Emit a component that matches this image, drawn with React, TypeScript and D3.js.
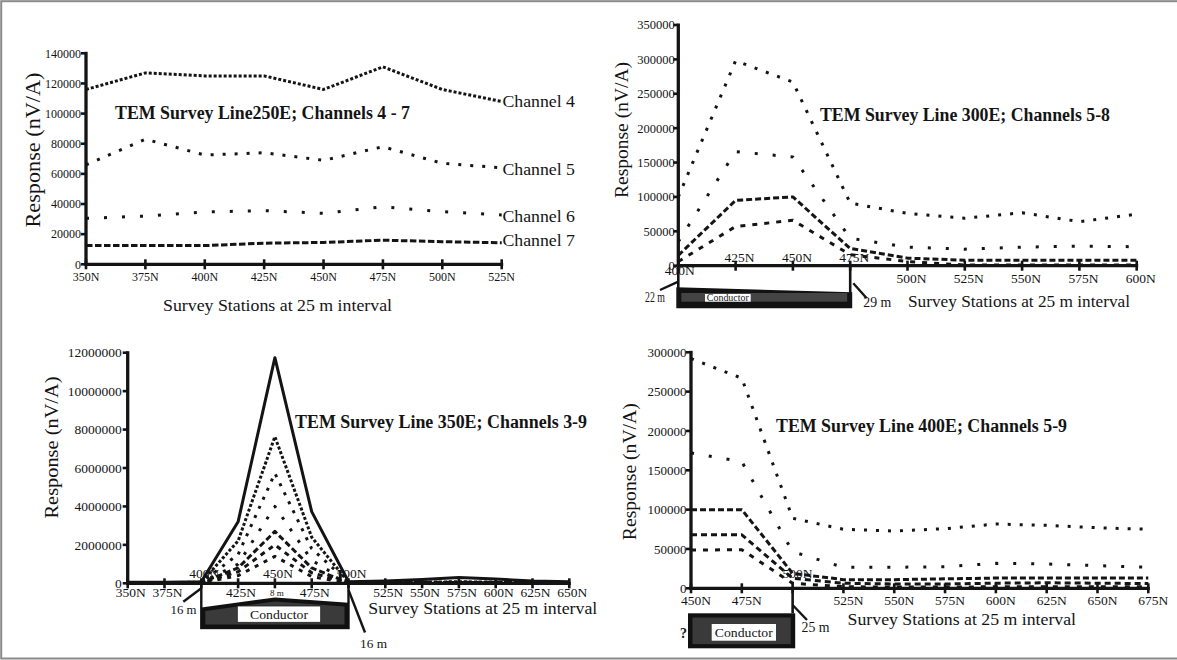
import React from "react";
import * as d3 from "d3";

const FONT = "Liberation Serif, Times New Roman, Times, serif";
const INK = "#141414";

// ---------------- Panel 1: TEM Survey Line 250E, channels 4-7 ----------------
const p1Stations = ["350N", "375N", "400N", "425N", "450N", "475N", "500N", "525N"];
const p1Ch4 = [116000, 127000, 125000, 125000, 116000, 131000, 116000, 108000];
const p1Ch5 = [66000, 83000, 72500, 74000, 69000, 78000, 67000, 64000];
const p1Ch6 = [30500, 32000, 34700, 35600, 33800, 38200, 34900, 32700];
const p1Ch7 = [12400, 12400, 12400, 14000, 14500, 16000, 15000, 14300];
const p1YTicks = [0, 20000, 40000, 60000, 80000, 100000, 120000, 140000];
const p1Names = ["Channel 4", "Channel 5", "Channel 6", "Channel 7"];

// ---------------- Panel 2: TEM Survey Line 300E, channels 5-8 ----------------
const p2Stations = ["400N", "425N", "450N", "475N", "500N", "525N", "550N", "575N", "600N"];
const p2Ch5 = [100000, 298000, 267000, 91000, 76000, 69000, 77000, 64000, 75000];
const p2Ch6 = [35000, 166000, 158000, 40000, 27000, 24000, 27000, 28500, 27600];
const p2Ch7 = [15000, 95000, 100000, 25000, 11000, 8000, 8000, 8000, 8000];
const p2Ch8 = [6000, 57000, 66000, 16000, 6000, 1000, 1000, 1000, 1000];
const p2YTicks = [0, 50000, 100000, 150000, 200000, 250000, 300000, 350000];

// ---------------- Panel 3: TEM Survey Line 350E, channels 3-9 ----------------
const p3Stations = ["350N", "375N", "400N", "425N", "450N", "475N", "500N", "525N", "550N", "575N", "600N", "625N", "650N"];
const p3Ch3 = [50000, 60000, 80000, 3200000, 11740000, 3730000, 80000, 120000, 200000, 300000, 220000, 120000, 80000];
const p3Ch4 = [20000, 30000, 60000, 2200000, 7630000, 2400000, 60000, 50000, 60000, 80000, 60000, 50000, 40000];
const p3Ch5 = [15000, 20000, 50000, 1500000, 5720000, 1800000, 50000, 40000, 50000, 60000, 50000, 40000, 30000];
const p3Ch6 = [10000, 15000, 40000, 1000000, 4000000, 1200000, 40000, 30000, 40000, 50000, 40000, 30000, 20000];
const p3Ch7 = [10000, 10000, 30000, 800000, 2700000, 800000, 30000, 20000, 30000, 40000, 30000, 20000, 20000];
const p3Ch8 = [5000, 10000, 20000, 600000, 2000000, 550000, 20000, 15000, 20000, 30000, 20000, 15000, 10000];
const p3Ch9 = [5000, 5000, 10000, 400000, 1400000, 350000, 10000, 10000, 15000, 20000, 15000, 10000, 10000];
const p3YTicks = [0, 2000000, 4000000, 6000000, 8000000, 10000000, 12000000];

// ---------------- Panel 4: TEM Survey Line 400E, channels 5-9 ----------------
const p4Stations = ["450N", "475N", "500N", "525N", "550N", "575N", "600N", "625N", "650N", "675N"];
const p4Ch5 = [292000, 267000, 89000, 75000, 72800, 75800, 81700, 80000, 77000, 75000];
const p4Ch6 = [172000, 161000, 46500, 26700, 26700, 27500, 31700, 30900, 28800, 26700];
const p4Ch7 = [100000, 100000, 19000, 11000, 11000, 12000, 13000, 13000, 13000, 13000];
const p4Ch8 = [68000, 68000, 12700, 6400, 5500, 5500, 6500, 7000, 6500, 6000];
const p4Ch9 = [48700, 49000, 6400, 2000, 1500, 1500, 2000, 2000, 2000, 2000];
const p4YTicks = [0, 50000, 100000, 150000, 200000, 250000, 300000];

// ---------------- styles (kept apart from the data) ----------------
const p1Dash = ["3 2", "3 9", "3 15", "6.5 2.5"];
const p2Dash = ["3 9", "3 15", "6 3", "5 7"];
const p3Dash = ["", "3 2", "3 7", "3 11", "6 3", "5 5", "4 6"];
const p4Dash = ["3 9", "3 15", "6 3", "6 4", "5 7"];

type Cfg = {
  stations: string[];
  xr: [number, number];
  yr: [number, number];
  yMax: number;
  yTicks: number[];
  yLabelSize: number;
  yLabelGap: number;
  xLabelSize: number;
  belowBase: number;
  aboveBase: number;
  above: string[];
  dx: number;
  override?: Record<string, [number, number]>;
};

function scales(cfg: Cfg) {
  const x = d3.scalePoint<string>().domain(cfg.stations).range(cfg.xr);
  const y = d3.scaleLinear().domain([0, cfg.yMax]).range(cfg.yr);
  return { x, y };
}

function Axes({ cfg }: { cfg: Cfg }) {
  const { x, y } = scales(cfg);
  const y0 = y(0);
  const x0 = cfg.xr[0];
  return (
    <g>
      {cfg.yTicks.map((v) => (
        <g key={"y" + v}>
          <line x1={x0 - 5} x2={x0} y1={y(v)} y2={y(v)} stroke={INK} strokeWidth={2.6} />
          <text x={x0 - cfg.yLabelGap} y={y(v)} dy="0.35em" textAnchor="end" fontSize={cfg.yLabelSize} fontFamily={FONT} fill={INK}>
            {v}
          </text>
        </g>
      ))}
      {cfg.stations.map((s) => {
        const ov = cfg.override && cfg.override[s];
        const isAbove = cfg.above.includes(s);
        const lx = (x(s) as number) + (ov ? ov[0] : cfg.dx);
        const ly = ov ? ov[1] : isAbove ? cfg.aboveBase : cfg.belowBase;
        return (
          <g key={"x" + s}>
            <line x1={x(s)} x2={x(s)} y1={y0 - 5} y2={y0 + 5} stroke={INK} strokeWidth={2.6} />
            <text x={lx} y={ly} textAnchor="middle" fontSize={cfg.xLabelSize} fontFamily={FONT} fill={INK}>
              {s}
            </text>
          </g>
        );
      })}
      <line x1={x0} x2={x0} y1={y0 + 1.5} y2={y(cfg.yMax) - 1.5} stroke={INK} strokeWidth={3.3} />
      <line x1={x0 - 1.5} x2={cfg.xr[1] + 1.5} y1={y0} y2={y0} stroke={INK} strokeWidth={3.3} />
    </g>
  );
}

function Lines({ cfg, series, dashes }: { cfg: Cfg; series: number[][]; dashes: string[] }) {
  const { x, y } = scales(cfg);
  const line = d3
    .line<number>()
    .x((_, i) => x(cfg.stations[i]) as number)
    .y((d) => y(d));
  return (
    <g>
      {series.map((vals, i) => (
        <path
          key={i}
          d={line(vals) || ""}
          fill="none"
          stroke={INK}
          strokeWidth={3}
          strokeDasharray={dashes[i] || undefined}
          strokeLinejoin="round"
        />
      ))}
    </g>
  );
}

function Txt(props: {
  x: number;
  y: number;
  size: number;
  len?: number;
  anchor?: string;
  bold?: boolean;
  rot?: boolean;
  fill?: string;
  children: React.ReactNode;
}) {
  const { x, y, size, len, anchor = "start", bold, rot, fill = INK, children } = props;
  return (
    <text
      x={rot ? 0 : x}
      y={rot ? 0 : y}
      transform={rot ? `translate(${x},${y}) rotate(-90)` : undefined}
      fontSize={size}
      fontFamily={FONT}
      fontWeight={bold ? "bold" : "normal"}
      textAnchor={anchor}
      textLength={len}
      lengthAdjust={len ? "spacingAndGlyphs" : undefined}
      fill={fill}
    >
      {children}
    </text>
  );
}

const cfg1: Cfg = {
  stations: p1Stations,
  xr: [86, 501.7],
  yr: [264.3, 53.3],
  yMax: 140000,
  yTicks: p1YTicks,
  yLabelSize: 12,
  yLabelGap: 5,
  xLabelSize: 12,
  belowBase: 281,
  aboveBase: 0,
  above: [],
  dx: 0,
};
const cfg2: Cfg = {
  stations: p2Stations,
  xr: [678.3, 1136.7],
  yr: [265.7, 25],
  yMax: 350000,
  yTicks: p2YTicks,
  yLabelSize: 12.5,
  yLabelGap: 3.5,
  xLabelSize: 13.5,
  belowBase: 283,
  aboveBase: 261.7,
  above: ["425N", "450N", "475N"],
  dx: 4,
  override: { "400N": [1.5, 274.5] },
};
const cfg3: Cfg = {
  stations: p3Stations,
  xr: [127.7, 569.3],
  yr: [583.3, 352.7],
  yMax: 12000000,
  yTicks: p3YTicks,
  yLabelSize: 13.5,
  yLabelGap: 6,
  xLabelSize: 13.5,
  belowBase: 597,
  aboveBase: 577.5,
  above: ["400N", "450N", "500N"],
  dx: 3,
};
const cfg4: Cfg = {
  stations: p4Stations,
  xr: [691, 1148.3],
  yr: [588.3, 352.3],
  yMax: 300000,
  yTicks: p4YTicks,
  yLabelSize: 13,
  yLabelGap: 4.5,
  xLabelSize: 13.5,
  belowBase: 605,
  aboveBase: 578.3,
  above: ["500N"],
  dx: 5,
};

function Panel1() {
  const { y } = scales(cfg1);
  const last = [p1Ch4, p1Ch5, p1Ch6, p1Ch7].map((s) => s[s.length - 1]);
  return (
    <g>
      <Axes cfg={cfg1} />
      <Lines cfg={cfg1} series={[p1Ch4, p1Ch5, p1Ch6, p1Ch7]} dashes={p1Dash} />
      {p1Names.map((n, i) => (
        <Txt key={n} x={502.5} y={y(last[i]) + [5.5, 7.5, 6.5, 3.5][i]} size={17.5} len={72.5}>
          {n}
        </Txt>
      ))}
      <Txt x={115} y={119.3} size={18} bold len={295}>
        TEM Survey Line250E; Channels 4 - 7
      </Txt>
      <Txt x={39.5} y={150} size={20} rot anchor="middle" len={155}>
        Response (nV/A)
      </Txt>
      <Txt x={163} y={311} size={17} len={229}>
        Survey Stations at 25 m interval
      </Txt>
    </g>
  );
}

function Panel2() {
  const { x, y } = scales(cfg2);
  const xa = x("400N") as number;
  const xb = x("475N") as number;
  const y0 = y(0);
  return (
    <g>
      {/* conductor */}
      <polygon points={`${xa - 2},287.3 ${xb + 2},292.3 ${xb + 2},308.3 ${xa - 2},308.3`} fill="#121212" />
      <rect x={xa + 3} y={293} width={xb - xa - 6} height={8.7} fill="#444" />
      <rect x={705} y={294} width={45.7} height={7.7} fill="#fff" />
      <Txt x={727.8} y={300.8} size={9.5} anchor="middle" len={42}>
        Conductor
      </Txt>
      <line x1={xa} x2={xa} y1={y0} y2={308} stroke={INK} strokeWidth={2.6} />
      <line x1={xb} x2={xb} y1={y0} y2={308} stroke={INK} strokeWidth={2.6} />
      <line x1={660} y1={290} x2={678.3} y2={281.7} stroke={INK} strokeWidth={2.4} />
      <line x1={853.3} y1={283.3} x2={866.7} y2={298.3} stroke={INK} strokeWidth={2.4} />
      <Txt x={645} y={301.7} size={14} len={20}>
        22 m
      </Txt>
      <Txt x={863.3} y={307} size={14} len={28}>
        29 m
      </Txt>
      <Axes cfg={cfg2} />
      <Lines cfg={cfg2} series={[p2Ch5, p2Ch6, p2Ch7, p2Ch8]} dashes={p2Dash} />
      <Txt x={820} y={120.5} size={18} bold len={290}>
        TEM Survey Line 300E; Channels 5-8
      </Txt>
      <Txt x={627.5} y={130} size={18} rot anchor="middle" len={136}>
        Response (nV/A)
      </Txt>
      <Txt x={908} y={306.5} size={17} len={222}>
        Survey Stations at 25 m interval
      </Txt>
    </g>
  );
}

function Panel3() {
  const { x, y } = scales(cfg3);
  const xa = x("400N") as number;
  const xb = x("500N") as number;
  const xm = x("450N") as number;
  const y0 = y(0);
  return (
    <g>
      {/* conductor */}
      <rect x={xa} y={y0} width={xb - xa} height={628 - y0} fill="#fff" stroke={INK} strokeWidth={2.4} />
      <polygon points={`${xa},607.5 ${xm},597.5 ${xb},602.7 ${xb},628.3 ${xa},628.3`} fill="#111" />
      <polygon points={`${xa + 4},611 ${xm},601.5 ${xb - 4},606.5 ${xb - 4},624.5 ${xa + 4},624.5`} fill="#3a3a3a" />
      <rect x={237.3} y={606} width={83.4} height={16.3} fill="#fff" stroke="#222" strokeWidth={0.8} />
      <Txt x={279} y={618.6} size={13} anchor="middle" len={58}>
        Conductor
      </Txt>
      <Txt x={xm + 2} y={595.5} size={9} anchor="middle">
        8 m
      </Txt>
      <line x1={183.3} y1={601.7} x2={xa} y2={588.3} stroke={INK} strokeWidth={2.4} />
      <line x1={xb} y1={590} x2={365} y2={632.5} stroke={INK} strokeWidth={2.4} />
      <Txt x={170.5} y={613.5} size={13.5} len={26}>
        16 m
      </Txt>
      <Txt x={360} y={648.3} size={13.5} len={27}>
        16 m
      </Txt>
      <Axes cfg={cfg3} />
      <Lines cfg={cfg3} series={[p3Ch3, p3Ch4, p3Ch5, p3Ch6, p3Ch7, p3Ch8, p3Ch9]} dashes={p3Dash} />
      <Txt x={295} y={428.3} size={18} bold len={292}>
        TEM Survey Line 350E; Channels 3-9
      </Txt>
      <Txt x={58} y={447.5} size={19} rot anchor="middle" len={142}>
        Response (nV/A)
      </Txt>
      <Txt x={368.3} y={614} size={17} len={229}>
        Survey Stations at 25 m interval
      </Txt>
    </g>
  );
}

function Panel4() {
  const { x, y } = scales(cfg4);
  const xc = x("500N") as number;
  const y0 = y(0);
  return (
    <g>
      {/* conductor */}
      <rect x={688} y={613.3} width={107.2} height={35} fill="#111" />
      <rect x={692.5} y={617.5} width={98.2} height={26.6} fill="#3a3a3a" />
      <rect x={711.7} y={624} width={64.3} height={16.7} fill="#fff" />
      <Txt x={743.8} y={637} size={13.5} anchor="middle" len={58}>
        Conductor
      </Txt>
      <line x1={xc} x2={xc} y1={y0} y2={613.3} stroke={INK} strokeWidth={2.6} />
      <line x1={xc} y1={605} x2={807} y2={620} stroke={INK} strokeWidth={2.4} />
      <Txt x={680} y={638.3} size={14} bold>
        ?
      </Txt>
      <Txt x={801.5} y={631.7} size={14} len={28}>
        25 m
      </Txt>
      <Axes cfg={cfg4} />
      <Lines cfg={cfg4} series={[p4Ch5, p4Ch6, p4Ch7, p4Ch8, p4Ch9]} dashes={p4Dash} />
      <Txt x={776} y={431.5} size={18} bold len={291}>
        TEM Survey Line 400E; Channels 5-9
      </Txt>
      <Txt x={635.5} y={471.7} size={18} rot anchor="middle" len={137}>
        Response (nV/A)
      </Txt>
      <Txt x={847.6} y={625} size={17} len={228.4}>
        Survey Stations at 25 m interval
      </Txt>
    </g>
  );
}

export default function App() {
  return (
    <svg
      width={1177}
      height={660}
      viewBox="0 0 1177 660"
      style={{ position: "absolute", left: 0, top: 0, background: "#fff" }}
    >
      <rect x={0} y={0} width={1177} height={660} fill="#fff" />
      <rect x={1.2} y={1.2} width={1190} height={657.3} fill="none" stroke="#8a8a8a" strokeWidth={2} />
      <Panel1 />
      <Panel2 />
      <Panel3 />
      <Panel4 />
    </svg>
  );
}
